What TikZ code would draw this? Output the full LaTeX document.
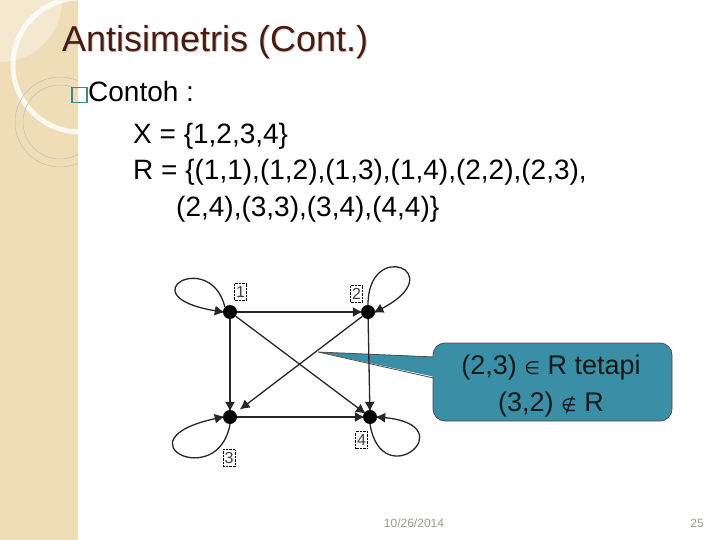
\documentclass[tikz,border=0pt]{standalone}
\usepackage{fontspec}
\setmainfont{Liberation Sans}
\newfontfamily\symfnt{DejaVu Sans}
\usetikzlibrary{arrows.meta}
\definecolor{stripc}{HTML}{EEDDB6}
\definecolor{stripl}{HTML}{F4E9CF}
\definecolor{titlec}{HTML}{4A1C10}
\definecolor{bulletc}{HTML}{3C8A8C}
\definecolor{calloutc}{HTML}{3A8EA6}
\definecolor{footc}{HTML}{9C9A8C}
\begin{document}
\begin{tikzpicture}[x=1pt,y=-1pt,
  vtx/.style={circle,fill=black,minimum size=14pt,inner sep=0pt},
  arr/.style={-{Latex[length=10pt,width=10pt]},line width=1.3pt,draw=black!85,shorten >=-2pt},
  lbl/.style={draw,densely dotted,font=\fontsize{16}{16}\selectfont,inner sep=0.6pt,minimum width=12pt,minimum height=17pt,text=black!75},
  body/.style={anchor=base west,font=\fontsize{28}{28}\selectfont,inner sep=0pt},
  cltext/.style={anchor=base,font=\fontsize{27}{27}\selectfont,inner sep=0pt,text=black!90},
  foot/.style={anchor=base,font=\fontsize{12}{12}\selectfont,text=footc,inner sep=0pt}]
\useasboundingbox (0,0) rectangle (720,540);
% left decorative strip
\fill[stripc] (0,0) rectangle (78,540);
\begin{scope}
\clip (0,0) rectangle (78,540);
\fill[stripl] (0,0) circle[radius=62];
\draw[white,opacity=0.8,line width=5pt] (80,65) circle[radius=67];
\draw[black!25,line width=0.5pt] (60,122) circle[radius=45];
\draw[black!25,line width=0.5pt] (60,122) circle[radius=37];
\end{scope}
% title
\node[anchor=base west,font=\fontsize{36}{36}\selectfont,text=black!20,inner sep=0pt] at (63,53) {Antisimetris (Cont.)};
\node (title) [anchor=base west,font=\fontsize{36}{36}\selectfont,text=titlec,inner sep=0pt] at (62,52) {Antisimetris (Cont.)};
% bullet and body text
\node (bul) [draw=bulletc,line width=1.3pt,minimum size=15pt,inner sep=0pt] at (79.5,95) {};
\node (t1) [body] at (88,102) {Contoh :};
\node (t2) [body] at (133,144) {X = \{1,2,3,4\}};
\node (t3) [body] at (133,180) {R = \{(1,1),(1,2),(1,3),(1,4),(2,2),(2,3),};
\node (t4) [body] at (176,216) {(2,4),(3,3),(3,4),(4,4)\}};
% callout
\node (cl) [rounded corners=12pt,fill=calloutc,draw=black!70,line width=0.8pt,
  minimum width=239pt,minimum height=78pt] at (552.5,382) {};
\coordinate (tip) at (318,352);
\fill[calloutc] (tip) -- (440,357) -- (440,378) -- cycle;
\draw[black!70,line width=0.8pt] (433.4,357) -- (tip) -- (433.4,378);
\node (c1) [cltext] at (551,374) {(2,3) {\symfnt\fontsize{18}{18}\selectfont ∈} R tetapi};
\node (c2) [cltext] at (551,411) {(3,2) {\symfnt\fontsize{18}{18}\selectfont ∉} R};
% graph
\node (n1) [vtx] at (230,312) {};
\node (n2) [vtx] at (368,312) {};
\node (n3) [vtx] at (230,417) {};
\node (n4) [vtx] at (370,417) {};
\node (l1) [lbl] at (240.5,291.5) {1};
\node (l2) [lbl] at (356.5,293.5) {2};
\node (l3) [lbl] at (229,458) {3};
\node (l4) [lbl] at (361.5,440) {4};
\draw[arr] (n1) -- (n2);
\draw[arr] (n1) -- (n3);
\draw[arr] (n1) -- (n4);
\draw[arr,shorten >=5pt] (n2) -- (n3);
\draw[arr] (n2) -- (n4);
\draw[arr] (n3) -- (n4);
% loops
\draw[arr] (n1.north west) .. controls (210,248) and (126,296) .. (n1.west);
\draw[arr] (n2.north) .. controls (368,238) and (452,272) .. (n2.east);
\draw[arr] (n3.south) .. controls (218,492) and (116,440) .. (n3.west);
\draw[arr] (n4.south) .. controls (382,496) and (466,425) .. (n4.east);
% footer
\node (date) [foot] at (414,527) {10/26/2014};
\node (page) [foot] at (697,527) {25};
\end{tikzpicture}
\end{document}
